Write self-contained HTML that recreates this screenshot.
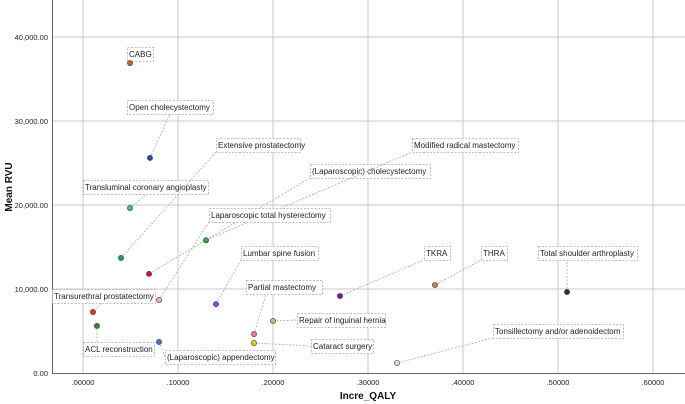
<!DOCTYPE html>
<html><head><meta charset="utf-8"><style>
body{margin:0;background:#fff;}
svg{display:block;font-family:"Liberation Sans",Arial,sans-serif;}
</style></head><body>
<svg id="chart" width="685" height="404"></svg>
<script>
const categories=["CABG","Open cholecystectomy","Transluminal coronary angioplasty","Extensive prostatectomy","(Laparoscopic) cholecystectomy","Modified radical mastectomy","Laparoscopic total hysterectomy","Lumbar spine fusion","Transurethral prostatectomy","ACL reconstruction","(Laparoscopic) appendectomy","Partial mastectomy","Cataract surgery","Repair of inguinal hernia","TKRA","THRA","Total shoulder arthroplasty","Tonsillectomy and/or adenoidectom"];
const increQaly=[4950,7050,4950,4000,6950,12950,8000,14000,1050,1470,8000,18000,18000,20000,27050,37050,50950,33050];
const meanRvu=[36900,25600,19640,13700,11800,15800,8700,8200,7260,5600,3700,4640,3570,6190,9170,10480,9640,1190];
const colors=["#e0602a","#2b4aa0","#4cc07a","#13a090","#d0102a","#3aa83a","#f0a8c8","#a040e0","#d04020","#208a30","#3a7ad0","#f070a8","#e0d010","#c0c070","#6a2090","#d08030","#303030","#e8dcc0"];
const boxes=[[127,47,26],[127,100,86],[83,180,125],[216,138,84],[310,164,120],[412,138,106],[209,208,121],[241,246,77],[52,289,103],[83,342,71],[165,350,110],[246,280,76],[311,339,62],[297,313,88],[424,246,26],[481,246,26],[538,246,99],[493,324,130]];
const anchors=[null,[170,114],[148,193],[216,152],[310,178],[412,152],[209,222],[241,260],[103,302],[97,342],[165,357],[266,294],[311,346],[297,320],[424,260],[481,260],[567,260],[493,338]];
const xTicks=[0,10000,20000,30000,40000,50000,60000];
const xTickLabels=[".00000",".10000",".20000",".30000",".40000",".50000",".60000"];
const yTicks=[0,10000,20000,30000,40000];
const yTickLabels=["0.00","10,000.00","20,000.00","30,000.00","40,000.00"];
const NS="http://www.w3.org/2000/svg";
const svg=document.getElementById('chart');
const X=v=>83+v*95/10000, Y=v=>373-v*84/10000;
function mk(t,a,p){const e=document.createElementNS(NS,t);for(const k in a)e.setAttribute(k,a[k]);(p||svg).appendChild(e);return e;}
xTicks.forEach((t,i)=>{
 const g=mk('line',{x1:X(t),x2:X(t),y1:0,y2:373,stroke:'#c8c8c8','stroke-width':1});
 
 
 const tx=mk('text',{x:X(t),y:385,'font-size':7.5,'text-anchor':'middle',fill:'#222'});
 tx.textContent=xTickLabels[i];
 
 
});
yTicks.forEach((t,i)=>{
 if(t>0){const g=mk('line',{x1:52,x2:685,y1:Y(t),y2:Y(t),stroke:'#c8c8c8','stroke-width':1});
 
 }
 const tx=mk('text',{x:48,y:Y(t)+3,'font-size':7.5,'text-anchor':'end',fill:'#222'});
 tx.textContent=yTickLabels[i];
 
 
});
const ax=mk('path',{d:'M52.5,0V373.5H685',stroke:'#666',fill:'none'});


categories.forEach((c,i)=>{
 const px=X(increQaly[i]),py=Y(meanRvu[i]);
 const [bx,by,bw]=boxes[i];const bh=14;
 if(anchors[i]){const l=mk('line',{x1:px,y1:py,x2:anchors[i][0],y2:anchors[i][1],stroke:'#aaa','stroke-width':0.8,'stroke-dasharray':'2,1.5'});
 
 }
 const r=mk('rect',{x:bx+0.5,y:by+0.5,width:bw,height:bh,fill:'#fff',stroke:'#aaa','stroke-width':0.8,'stroke-dasharray':'2,1.5'});
 
 
 const t=mk('text',{x:bx+2,y:by+10,'font-size':8,fill:'#222'});
 t.textContent=c;
 
 
});
categories.forEach((c,i)=>{
 const p=mk('circle',{cx:X(increQaly[i]),cy:Y(meanRvu[i]),r:2.6,fill:colors[i],stroke:'#333','stroke-width':0.6});
 
 
});
const xt=mk('text',{x:368,y:399,'font-size':10,'font-weight':'bold','text-anchor':'middle',fill:'#111'});
xt.textContent='Incre_QALY';


const yt=mk('text',{x:0,y:0,'font-size':10,'font-weight':'bold','text-anchor':'middle',fill:'#111',transform:'translate(12,187) rotate(-90)'});
yt.textContent='Mean RVU';


</script>
</body></html>
